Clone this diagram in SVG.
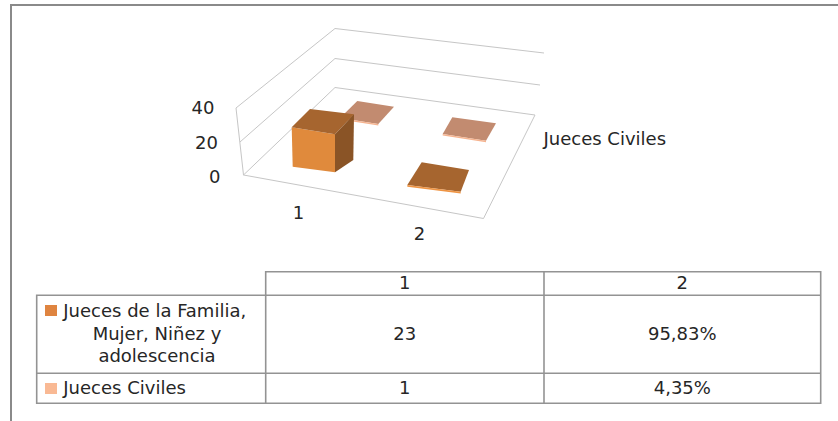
<svg xmlns="http://www.w3.org/2000/svg" width="838" height="421" viewBox="0 0 838 421">
<style>
text{font-family:"DejaVu Sans","Open Sans",sans-serif;font-size:18px;fill:#262626}
.grid{fill:none;stroke:#c6c6c6;stroke-width:1}
.tbl{fill:none;stroke:#939393;stroke-width:1.6}
.frame{fill:none;stroke:#8a8a8a;stroke-width:2}
.mid{text-anchor:middle}
.end{text-anchor:end}
</style>
<rect width="838" height="421" fill="#ffffff"/>
<g id="frame">
<polyline class="frame" points="11,421 11,5 838,5"/>
</g>
<g id="chart-walls">
<polyline class="grid" points="236,108 335,28.5 544,53"/>
<polyline class="grid" points="240,142 335,58.5 540,85"/>
<polyline class="grid" points="243.5,175 335,87.5 535,115 483.5,218.5 243.5,175 236,108"/>
</g>
<g id="axis-labels">
<text class="end" x="214.5" y="114">40</text>
<text class="end" x="218" y="148.5">20</text>
<text class="end" x="220.5" y="183">0</text>
<text class="mid" x="298.5" y="218.5">1</text>
<text class="mid" x="419.5" y="240">2</text>
<text x="543.5" y="145">Jueces Civiles</text>
</g>
<g id="series-civiles">
<polygon points="340,118 357.3,101 394,106.7 378.3,124" fill="#c28b70"/>
<polygon points="340,118 378.3,124 378.3,125.5 340,119.5" fill="#f6b490"/>
<polygon points="442.7,134 452.3,117.3 496,123.3 486,140.7" fill="#c28b70"/>
<polygon points="442.7,134 486,140.7 486,142.2 442.7,135.5" fill="#f6b490"/>
</g>
<g id="series-familia">
<polygon points="291.7,127.3 335,134.3 335,172.3 292.7,166.7" fill="#e08a3c"/>
<polygon points="291.7,127.3 310,109 354,114.3 335,134.3" fill="#a6652f"/>
<polygon points="335,134.3 354,114.3 353.3,160 335,172.3" fill="#8a5426"/>
<polygon points="407.3,185 421.7,162.3 469,170 460.7,191.7" fill="#a6652f"/>
<polygon points="407.3,185 460.7,191.7 460.7,193.5 407.3,186.8" fill="#ee9444"/>
</g>
<g id="table">
<polyline class="tbl" points="265.7,295.3 265.7,271.7 820.7,271.7 820.7,403.3 36.7,403.3 36.7,295.3 820.7,295.3"/>
<line class="tbl" x1="36.7" y1="373.3" x2="820.7" y2="373.3"/>
<line class="tbl" x1="265.7" y1="295.3" x2="265.7" y2="403.3"/>
<line class="tbl" x1="544" y1="271.7" x2="544" y2="403.3"/>
<text class="mid" x="404.8" y="289.3">1</text>
<text class="mid" x="682.3" y="289.3">2</text>
<rect x="45" y="305" width="12" height="11" fill="#df8440"/>
<text x="63.3" y="317">Jueces de la Familia,</text>
<text class="mid" x="157" y="340">Mujer, Niñez y</text>
<text class="mid" x="157" y="362">adolescencia</text>
<text class="mid" x="404.8" y="340">23</text>
<text class="mid" x="682.3" y="340">95,83%</text>
<rect x="45" y="383" width="12" height="11" fill="#f9b994"/>
<text x="63.3" y="394">Jueces Civiles</text>
<text class="mid" x="404.8" y="394">1</text>
<text class="mid" x="682.3" y="394">4,35%</text>
</g>
</svg>
